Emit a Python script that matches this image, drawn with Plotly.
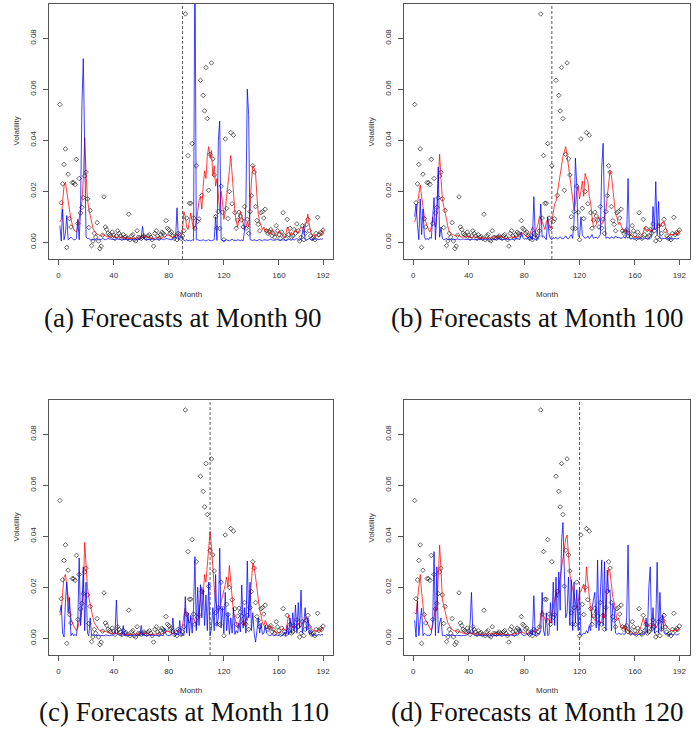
import plotly.graph_objects as go

W, H = 697, 752

months = list(range(1, 193))

obs = [0.054, 0.0155, 0.0229, 0.0305, 0.0366, -0.002, 0.0267, 0.0093, 0.006, 0.0234,
       0.0234, 0.0227, 0.0325, 0.0074, 0.025, 0.0115, 0.0137, 0.0175, 0.026, 0.0275,
       0.017, 0.0058, 0.0125, -0.0013, 0.0005, 0.0035, 0.002, 0.0077, 0.0005, -0.0025,
       -0.0015, 0.0028, 0.0178, 0.006, 0.005, 0.0035, 0.003, 0.0025, 0.004, 0.0028,
       0.0015, 0.0025, 0.0045, 0.0035, 0.0025, 0.0015, 0.003, 0.002, 0.0022, 0.0015,
       0.011, 0.001, 0.0025, 0.003, 0.001, 0.0005, 0.0045, 0.002, 0.0018, 0.0015,
       0.002, 0.0025, 0.002, 0.0015, 0.0025, 0.003, 0.002, 0.001, -0.0015, 0.0035,
       0.0045, 0.0025, 0.0015, 0.003, 0.004, 0.0035, 0.0028, 0.0085, 0.0055, 0.005,
       0.0035, 0.004, 0.0025, 0.0015, 0.0025, 0.001, 0.0035, 0.003, 0.0015, 0.0025,
       0.0045, 0.0895, 0.0095, 0.034, 0.0153, 0.0153, 0.0387, 0.0095, 0.0055, 0.030,
       0.0082, 0.0092, 0.0635, 0.0184, 0.0576, 0.0515, 0.0685, 0.0485, 0.0204, 0.0345,
       0.0703, 0.0327, 0.0264, 0.010, 0.0055, 0.012, 0.0054, 0.022, 0.0118, 0.001,
       0.0405, 0.0133, 0.0093, 0.0199, 0.043, 0.0151, 0.042, 0.0116, 0.0055, 0.0087,
       0.0118, 0.0103, 0.0087, 0.006, 0.014, 0.0055, 0.009, 0.0035, 0.012, 0.0183,
       0.030, 0.0275, 0.014, 0.0085, 0.007, 0.0045, 0.0116, 0.012, 0.0095, 0.013,
       0.0045, 0.0035, 0.0042, 0.005, 0.0025, 0.0035, 0.002, 0.0065, 0.0045, 0.003,
       0.0015, 0.004, 0.0116, 0.0025, 0.0015, 0.009, 0.003, 0.0055, 0.002, 0.0025,
       0.005, 0.0035, 0.0072, 0.0045, 0.0005, 0.002, 0.0065, 0.001, 0.0035, 0.007,
       0.009, 0.0045, 0.0025, 0.0015, 0.002, 0.001, 0.0035, 0.0098, 0.003, 0.0038,
       0.0035, 0.0048]

red_a = [0.008, 0.009, 0.016, 0.022, 0.0235, 0.020, 0.015, 0.012, 0.009, 0.007,
         0.005, 0.0045, 0.004, 0.006, 0.009, 0.012, 0.016, 0.025, 0.041, 0.027,
         0.017, 0.013, 0.010, 0.008, 0.0055, 0.0045, 0.0035, 0.003, 0.003, 0.0025,
         0.0025, 0.003, 0.0028, 0.0025, 0.0022, 0.002, 0.002, 0.0022, 0.0025, 0.0022,
         0.002, 0.0018, 0.002, 0.0022, 0.002, 0.0018, 0.0015, 0.0018, 0.0016, 0.0015,
         0.0015, 0.0016, 0.0014, 0.0015, 0.0016, 0.0015, 0.0017, 0.0018, 0.0016, 0.0015,
         0.002, 0.0022, 0.0025, 0.0022, 0.002, 0.0018, 0.0016, 0.0015, 0.0014, 0.0016,
         0.002, 0.0018, 0.0016, 0.0015, 0.0018, 0.0022, 0.002, 0.0025, 0.003, 0.0028,
         0.0025, 0.002, 0.0018, 0.0022, 0.0028, 0.003, 0.0025, 0.003, 0.0035, 0.005,
         0.012, 0.010, 0.006, 0.005, 0.009, 0.0115, 0.008, 0.005, 0.006, 0.008,
         0.012, 0.0165, 0.018, 0.013, 0.022, 0.028, 0.025, 0.034, 0.0375, 0.033,
         0.036, 0.026, 0.030, 0.022, 0.025, 0.017, 0.012, 0.020, 0.016, 0.009,
         0.012, 0.018, 0.022, 0.028, 0.034, 0.026, 0.018, 0.012, 0.008, 0.006,
         0.009, 0.012, 0.010, 0.007, 0.005, 0.006, 0.008, 0.006, 0.013, 0.024,
         0.030, 0.029, 0.027, 0.018, 0.011, 0.008, 0.006, 0.005, 0.006, 0.004,
         0.005, 0.004, 0.003, 0.0035, 0.005, 0.004, 0.003, 0.0025, 0.003, 0.0045,
         0.004, 0.003, 0.0025, 0.002, 0.003, 0.006, 0.005, 0.003, 0.004, 0.003,
         0.004, 0.005, 0.004, 0.0035, 0.005, 0.006, 0.005, 0.004, 0.006, 0.009,
         0.011, 0.007, 0.004, 0.003, 0.003, 0.002, 0.003, 0.0025, 0.002, 0.003,
         0.003, 0.005]

blue_a = [0.0065, 0.0005, 0.013, 0.001, 0.0035, 0.0105, 0.001, 0.0015, 0.002, 0.0015,
          0.001, 0.001, 0.0015, 0.009, 0.001, 0.013, 0.054, 0.072, 0.025, 0.002,
          0.0015, 0.0015, 0.001, 0.001, 0.0012, 0.0012, 0.001, 0.0015, 0.001, 0.0012,
          0.001, 0.0015, 0.0012, 0.001, 0.0012, 0.0015, 0.0013, 0.0012, 0.001, 0.0011,
          0.0012, 0.0014, 0.0012, 0.001, 0.0011, 0.0013, 0.0012, 0.001, 0.0012, 0.0011,
          0.0012, 0.0011, 0.001, 0.0012, 0.0013, 0.0012, 0.0011, 0.001, 0.0012, 0.002,
          0.0062, 0.0015, 0.001, 0.0012, 0.0011, 0.001, 0.0012, 0.0013, 0.0011, 0.001,
          0.0012, 0.0011, 0.001, 0.0012, 0.0014, 0.0012, 0.001, 0.0015, 0.0013, 0.0011,
          0.0012, 0.001, 0.0013, 0.0015, 0.002, 0.0135, 0.001, 0.0015, 0.002, 0.0012,
          0.0008, 0.0005, 0.001, 0.0006, 0.0008, 0.0005, 0.001, 0.0007, 0.120, 0.001,
          0.001, 0.0008, 0.0006, 0.0008, 0.001, 0.0007, 0.0005, 0.0008, 0.001, 0.0007,
          0.0006, 0.0008, 0.001, 0.010, 0.0007, 0.040, 0.0475, 0.001, 0.0008, 0.0006,
          0.0008, 0.001, 0.0007, 0.0006, 0.0009, 0.0012, 0.0008, 0.0006, 0.0007, 0.001,
          0.0008, 0.0007, 0.0009, 0.0006, 0.0045, 0.015, 0.060, 0.050, 0.001, 0.0008,
          0.0007, 0.001, 0.0008, 0.0006, 0.0009, 0.0011, 0.0008, 0.0006, 0.001, 0.0009,
          0.0007, 0.0008, 0.001, 0.0012, 0.0009, 0.0007, 0.0008, 0.001, 0.0011, 0.0008,
          0.0007, 0.0009, 0.001, 0.0008, 0.0007, 0.0009, 0.0012, 0.001, 0.0008, 0.0011,
          0.0009, 0.0012, 0.0015, 0.001, 0.0008, 0.0012, 0.0035, 0.0065, 0.001, 0.0008,
          0.0012, 0.0015, 0.0011, 0.0009, 0.0012, 0.001, 0.0014, 0.0012, 0.001, 0.0013,
          0.0012, 0.0014]

red_b = [0.008, 0.010, 0.015, 0.019, 0.0225, 0.018, 0.013, 0.010, 0.008, 0.006,
         0.005, 0.004, 0.006, 0.010, 0.008, 0.006, 0.012, 0.025, 0.0345, 0.025,
         0.017, 0.014, 0.012, 0.009, 0.006, 0.004, 0.0035, 0.003, 0.003, 0.0025,
         0.0025, 0.0028, 0.0025, 0.0022, 0.002, 0.002, 0.002, 0.0022, 0.0025, 0.0022,
         0.002, 0.0018, 0.002, 0.0024, 0.002, 0.0018, 0.0016, 0.0018, 0.0016, 0.0015,
         0.0015, 0.0018, 0.0015, 0.0017, 0.0016, 0.0017, 0.002, 0.0022, 0.002, 0.0018,
         0.002, 0.0025, 0.0022, 0.002, 0.0018, 0.0016, 0.0015, 0.0016, 0.0018, 0.002,
         0.0022, 0.002, 0.0018, 0.0017, 0.0022, 0.0025, 0.0028, 0.004, 0.0035, 0.003,
         0.0025, 0.0022, 0.0025, 0.003, 0.0045, 0.006, 0.005, 0.004, 0.0055, 0.007,
         0.010, 0.0095, 0.008, 0.006, 0.005, 0.008, 0.009, 0.007, 0.0055, 0.008,
         0.0114, 0.015, 0.016, 0.020, 0.023, 0.026, 0.030, 0.0336, 0.036, 0.0375,
         0.034, 0.030, 0.024, 0.020, 0.018, 0.013, 0.015, 0.020, 0.022, 0.017,
         0.020, 0.024, 0.018, 0.027, 0.025, 0.024, 0.018, 0.0155, 0.010, 0.006,
         0.006, 0.007, 0.009, 0.010, 0.008, 0.007, 0.008, 0.010, 0.012, 0.018,
         0.022, 0.028, 0.026, 0.020, 0.017, 0.011, 0.0098, 0.007, 0.008, 0.006,
         0.005, 0.0045, 0.004, 0.005, 0.004, 0.0036, 0.003, 0.0025, 0.002, 0.002,
         0.002, 0.0018, 0.002, 0.0025, 0.003, 0.004, 0.006, 0.0048, 0.004, 0.005,
         0.005, 0.004, 0.005, 0.006, 0.005, 0.006, 0.007, 0.006, 0.007, 0.008,
         0.0081, 0.006, 0.004, 0.0035, 0.003, 0.003, 0.003, 0.0028, 0.003, 0.0035,
         0.003, 0.0048]

blue_b = [0.010, 0.015, 0.007, 0.001, 0.017, 0.003, 0.013, 0.002, 0.001, 0.0015,
          0.001, 0.002, 0.0015, 0.008, 0.0175, 0.001, 0.011, 0.0295, 0.002, 0.006,
          0.0015, 0.001, 0.0012, 0.0015, 0.001, 0.0012, 0.0011, 0.0013, 0.001, 0.0012,
          0.0011, 0.0013, 0.0012, 0.001, 0.0012, 0.0013, 0.0011, 0.0012, 0.001, 0.0012,
          0.0011, 0.0013, 0.0012, 0.001, 0.0012, 0.0011, 0.0012, 0.001, 0.0011, 0.0012,
          0.0012, 0.0011, 0.001, 0.0012, 0.0011, 0.0012, 0.0013, 0.0011, 0.001, 0.0012,
          0.0015, 0.0012, 0.0011, 0.001, 0.0012, 0.0011, 0.0013, 0.0012, 0.0011, 0.001,
          0.0012, 0.0011, 0.0012, 0.0015, 0.0013, 0.0012, 0.0011, 0.004, 0.002, 0.0012,
          0.0015, 0.0012, 0.002, 0.001, 0.0025, 0.001, 0.0179, 0.003, 0.001, 0.002,
          0.003, 0.015, 0.002, 0.0025, 0.0015, 0.001, 0.010, 0.003, 0.0015, 0.001,
          0.0018, 0.0015, 0.002, 0.0013, 0.0016, 0.0022, 0.0015, 0.0013, 0.0018, 0.0025,
          0.0016, 0.0014, 0.0022, 0.003, 0.0015, 0.008, 0.033, 0.022, 0.0025, 0.002,
          0.010, 0.0028, 0.002, 0.0016, 0.0018, 0.0025, 0.0015, 0.002, 0.003, 0.0016,
          0.0018, 0.002, 0.0015, 0.0022, 0.003, 0.029, 0.0388, 0.012, 0.0015, 0.002,
          0.0018, 0.0015, 0.0022, 0.0018, 0.0015, 0.0025, 0.0018, 0.002, 0.0016, 0.0015,
          0.0018, 0.0022, 0.0015, 0.003, 0.025, 0.0018, 0.0015, 0.0016, 0.0013, 0.0012,
          0.0015, 0.0013, 0.0012, 0.0016, 0.0014, 0.0012, 0.0018, 0.0013, 0.0016, 0.0012,
          0.0015, 0.002, 0.014, 0.005, 0.0238, 0.003, 0.016, 0.0018, 0.0013, 0.0016,
          0.0014, 0.0016, 0.0012, 0.0013, 0.0016, 0.0012, 0.0013, 0.0014, 0.0015, 0.0013,
          0.0015, 0.0016]

red_c = [0.009, 0.010, 0.018, 0.024, 0.025, 0.021, 0.017, 0.011, 0.008, 0.006,
         0.005, 0.004, 0.003, 0.004, 0.006, 0.009, 0.013, 0.018, 0.0376, 0.027,
         0.020, 0.016, 0.013, 0.010, 0.008, 0.006, 0.005, 0.004, 0.0035, 0.003,
         0.003, 0.0028, 0.0025, 0.0028, 0.0025, 0.0022, 0.002, 0.002, 0.0018, 0.002,
         0.0022, 0.002, 0.0018, 0.0016, 0.0015, 0.0016, 0.0014, 0.0015, 0.0016, 0.0014,
         0.0015, 0.0016, 0.0014, 0.0015, 0.0017, 0.0015, 0.0016, 0.0018, 0.002, 0.0018,
         0.0016, 0.0018, 0.002, 0.0018, 0.0016, 0.0015, 0.0014, 0.0015, 0.0016, 0.0015,
         0.0016, 0.0018, 0.0016, 0.0015, 0.0018, 0.002, 0.0022, 0.0025, 0.003, 0.0025,
         0.0022, 0.002, 0.0018, 0.002, 0.0025, 0.003, 0.0028, 0.0025, 0.003, 0.005,
         0.009, 0.0118, 0.009, 0.007, 0.006, 0.008, 0.0075, 0.008, 0.006, 0.005,
         0.007, 0.010, 0.015, 0.020, 0.017, 0.025, 0.022, 0.030, 0.035, 0.042,
         0.036, 0.027, 0.020, 0.0145, 0.012, 0.010, 0.012, 0.014, 0.016, 0.019,
         0.021, 0.024, 0.020, 0.0286, 0.022, 0.0146, 0.010, 0.008, 0.006, 0.004,
         0.006, 0.008, 0.007, 0.006, 0.005, 0.008, 0.007, 0.010, 0.015, 0.022,
         0.0296, 0.028, 0.024, 0.019, 0.015, 0.011, 0.009, 0.006, 0.005, 0.007,
         0.006, 0.004, 0.0035, 0.005, 0.004, 0.003, 0.0025, 0.002, 0.002, 0.0022,
         0.0025, 0.003, 0.004, 0.0035, 0.003, 0.006, 0.009, 0.007, 0.005, 0.004,
         0.005, 0.0045, 0.005, 0.006, 0.005, 0.0045, 0.006, 0.007, 0.008, 0.0084,
         0.007, 0.005, 0.004, 0.0035, 0.003, 0.003, 0.0028, 0.003, 0.003, 0.0028,
         0.0039, 0.004]

blue_c = [0.010, 0.013, 0.002, 0.0005, 0.014, 0.022, 0.010, 0.016, 0.001, 0.002,
          0.001, 0.0015, 0.001, 0.006, 0.0315, 0.005, 0.012, 0.028, 0.003, 0.022,
          0.002, 0.001, 0.008, 0.001, 0.0015, 0.001, 0.0012, 0.001, 0.0011, 0.0012,
          0.0011, 0.0012, 0.001, 0.0013, 0.0012, 0.0011, 0.001, 0.0012, 0.0011, 0.0013,
          0.002, 0.015, 0.0015, 0.0012, 0.001, 0.0012, 0.005, 0.0011, 0.001, 0.0012,
          0.0011, 0.0012, 0.001, 0.0011, 0.0013, 0.0012, 0.001, 0.0011, 0.0012, 0.005,
          0.0012, 0.0011, 0.001, 0.0012, 0.0011, 0.0013, 0.0012, 0.001, 0.0011, 0.0012,
          0.0011, 0.0012, 0.001, 0.0013, 0.0012, 0.001, 0.004, 0.0015, 0.0011, 0.0012,
          0.001, 0.002, 0.008, 0.0015, 0.001, 0.002, 0.0012, 0.007, 0.001, 0.0015,
          0.001, 0.0163, 0.002, 0.010, 0.001, 0.009, 0.002, 0.012, 0.032, 0.003,
          0.020, 0.005, 0.021, 0.008, 0.019, 0.005, 0.017, 0.003, 0.022, 0.001,
          0.004, 0.012, 0.003, 0.025, 0.005, 0.008, 0.0353, 0.004, 0.012, 0.002,
          0.018, 0.003, 0.010, 0.0015, 0.008, 0.002, 0.012, 0.0015, 0.003, 0.002,
          0.006, 0.0025, 0.0209, 0.004, 0.012, 0.002, 0.0303, 0.008, 0.022, 0.003,
          0.010, 0.002, -0.0015, 0.003, 0.008, 0.002, 0.006, 0.0015, 0.002, 0.005,
          0.002, 0.0015, 0.001, 0.0012, 0.0015, 0.001, 0.0012, 0.0013, 0.001, 0.0012,
          0.0015, 0.001, 0.0012, 0.0025, 0.001, 0.005, 0.0015, 0.008, 0.002, 0.010,
          0.003, 0.013, 0.002, 0.014, 0.004, 0.0189, 0.002, 0.006, 0.012, 0.003,
          0.008, 0.0015, 0.003, 0.001, 0.0015, 0.0012, 0.001, 0.0013, 0.0015, 0.0012,
          0.0015, 0.0013]

red_d = [0.010, 0.0095, 0.015, 0.020, 0.025, 0.018, 0.012, 0.008, 0.007, 0.006,
         0.005, 0.004, 0.003, 0.005, 0.008, 0.012, 0.011, 0.025, 0.0366, 0.027,
         0.015, 0.013, 0.010, 0.008, 0.006, 0.005, 0.004, 0.0035, 0.003, 0.003,
         0.003, 0.0028, 0.0025, 0.0025, 0.0023, 0.002, 0.002, 0.0022, 0.002, 0.0018,
         0.002, 0.0022, 0.002, 0.0018, 0.0016, 0.0015, 0.0016, 0.0015, 0.0014, 0.0015,
         0.0016, 0.0015, 0.0014, 0.0016, 0.0018, 0.0017, 0.0016, 0.0018, 0.002, 0.0018,
         0.0016, 0.0015, 0.0016, 0.0018, 0.0017, 0.0015, 0.0014, 0.0015, 0.0013, 0.0014,
         0.0015, 0.0016, 0.0015, 0.0016, 0.0018, 0.002, 0.0022, 0.0025, 0.0022, 0.002,
         0.002, 0.0018, 0.002, 0.0022, 0.0025, 0.003, 0.0028, 0.0025, 0.003, 0.0035,
         0.004, 0.009, 0.011, 0.009, 0.007, 0.006, 0.008, 0.007, 0.006, 0.009,
         0.012, 0.015, 0.018, 0.016, 0.020, 0.022, 0.028, 0.030, 0.035, 0.039,
         0.0405, 0.033, 0.025, 0.022, 0.019, 0.017, 0.014, 0.012, 0.014, 0.018,
         0.0183, 0.020, 0.0212, 0.018, 0.028, 0.022, 0.015, 0.011, 0.009, 0.008,
         0.007, 0.0075, 0.0065, 0.007, 0.006, 0.007, 0.010, 0.008, 0.012, 0.022,
         0.0273, 0.026, 0.020, 0.016, 0.014, 0.010, 0.007, 0.008, 0.006, 0.004,
         0.004, 0.005, 0.003, 0.0035, 0.003, 0.0025, 0.002, 0.002, 0.0018, 0.0015,
         0.0016, 0.002, 0.003, 0.004, 0.006, 0.008, 0.006, 0.005, 0.0045, 0.005,
         0.005, 0.0045, 0.006, 0.005, 0.004, 0.005, 0.006, 0.008, 0.0083, 0.009,
         0.007, 0.005, 0.0045, 0.004, 0.0035, 0.003, 0.003, 0.003, 0.0028, 0.003,
         0.003, 0.004]

blue_d = [0.007, 0.0005, 0.0146, 0.001, 0.007, 0.0118, 0.001, 0.002, 0.0015, 0.001,
          0.0012, 0.001, 0.002, 0.006, 0.034, 0.001, 0.028, 0.002, 0.006, 0.008,
          0.001, 0.0012, 0.001, 0.0015, 0.0012, 0.001, 0.0011, 0.0013, 0.0012, 0.001,
          0.0012, 0.0011, 0.0013, 0.0012, 0.001, 0.0011, 0.0012, 0.001, 0.0013, 0.002,
          0.006, 0.018, 0.002, 0.0012, 0.001, 0.0011, 0.0013, 0.0012, 0.001, 0.0012,
          0.0011, 0.0013, 0.0012, 0.001, 0.0011, 0.0012, 0.0013, 0.001, 0.0011, 0.0012,
          0.0011, 0.0012, 0.001, 0.0013, 0.0012, 0.0011, 0.001, 0.0012, 0.0011, 0.0013,
          0.0012, 0.001, 0.0011, 0.0013, 0.0012, 0.0015, 0.004, 0.002, 0.0012, 0.0011,
          0.0012, 0.002, 0.0011, 0.0015, 0.003, 0.0012, 0.0167, 0.001, 0.0012, 0.002,
          0.0015, 0.003, 0.018, 0.003, 0.001, 0.010, 0.001, 0.0015, 0.014, 0.006,
          0.022, 0.005, 0.024, 0.003, 0.026, 0.011, 0.0376, 0.0454, 0.020, 0.008,
          0.010, 0.024, 0.005, 0.023, 0.003, 0.022, 0.006, 0.019, 0.003, 0.020,
          0.001, 0.0015, 0.002, 0.0018, 0.003, 0.002, 0.005, 0.003, 0.012, 0.015,
          0.018, 0.004, 0.0307, 0.003, 0.020, 0.0307, 0.005, 0.030, 0.003, 0.0268,
          0.018, 0.019, 0.003, 0.0137, 0.011, 0.002, 0.0015, 0.002, 0.0018, 0.0015,
          0.002, 0.0015, 0.0018, 0.008, 0.0366, 0.002, 0.0015, 0.0018, 0.0015, 0.0012,
          0.0015, 0.0012, 0.0018, 0.0015, 0.0012, 0.002, 0.0015, 0.008, 0.002, 0.020,
          0.028, 0.003, 0.012, 0.002, 0.006, 0.0298, 0.002, 0.018, 0.003, 0.009,
          0.002, 0.0015, 0.002, 0.0012, 0.0015, 0.0018, 0.0012, 0.0015, 0.0018, 0.0012,
          0.0015, 0.0018]

forecast_months = [90, 100, 110, 120]
reds = [red_a, red_b, red_c, red_d]
blues = [blue_a, blue_b, blue_c, blue_d]
captions = ["(a) Forecasts at Month 90", "(b) Forecasts at Month 100",
            "(c) Forecasts at Month 110", "(d) Forecasts at Month 120"]
x_ticks = [0, 40, 80, 120, 160, 192]
y_ticks = [0.00, 0.02, 0.04, 0.06, 0.08]
y_tick_text = ["0.00", "0.02", "0.04", "0.06", "0.08"]

# plot boxes in pixels: left, top, right, bottom
boxes = [(49, 4, 333, 259), (404, 4, 690, 259), (49, 400, 333, 655), (404, 400, 690, 655)]
x_ranges = [(-6.9, 199.2), (-6.7, 199.7), (-6.9, 199.2), (-6.7, 199.7)]
y_range = (-0.00655, 0.0934)
caption_centers = [(182, 318), (537, 318), (184, 712), (537, 712)]

def px(x):
    return x / W

def py(y):
    return 1 - y / H

sans = "Liberation Sans Narrow, Arial Narrow, Liberation Sans, Arial, sans-serif"
tick_font = dict(family=sans, size=8, color="#333333")

fig = go.Figure()
layout = dict(width=W, height=H, margin=dict(l=0, r=0, t=0, b=0),
              paper_bgcolor="white", plot_bgcolor="white", showlegend=False)
shapes = []
annotations = []

for i in range(4):
    k = "" if i == 0 else str(i + 1)
    xa, ya = "x" + k, "y" + k
    l, t, r, b = boxes[i]
    fig.add_trace(go.Scatter(x=months, y=obs, mode="markers", xaxis=xa, yaxis=ya,
                             marker=dict(symbol="diamond-open", size=3.5, color="#222222",
                                         line=dict(width=0.7, color="#222222"))))
    fig.add_trace(go.Scatter(x=months, y=reds[i], mode="lines", xaxis=xa, yaxis=ya,
                             line=dict(color="rgba(255,0,0,0.75)", width=1)))
    fig.add_trace(go.Scatter(x=months, y=blues[i], mode="lines", xaxis=xa, yaxis=ya,
                             line=dict(color="rgba(0,0,255,0.75)", width=1)))
    layout["xaxis" + k] = dict(domain=[px(l), px(r)], range=list(x_ranges[i]), anchor=ya,
                               tickvals=x_ticks, ticks="outside", ticklen=5, tickcolor="#555555",
                               showline=True, mirror=True, linecolor="#555555", linewidth=1,
                               showgrid=False, zeroline=False, tickfont=tick_font,
                               ticklabelstandoff=3)
    layout["yaxis" + k] = dict(domain=[py(b), py(t)], range=list(y_range), anchor=xa,
                               tickvals=y_ticks, ticktext=y_tick_text, tickangle=-90,
                               ticks="outside", ticklen=5, tickcolor="#555555",
                               showline=True, mirror=True, linecolor="#555555", linewidth=1,
                               showgrid=False, zeroline=False, tickfont=tick_font,
                               ticklabelstandoff=4)
    shapes.append(dict(type="line", xref=xa, yref=ya + " domain", x0=forecast_months[i],
                       x1=forecast_months[i], y0=0, y1=1,
                       line=dict(color="#333333", width=0.8, dash="3px,2px")))
    annotations.append(dict(text="Month", xref="paper", yref="paper", x=px((l + r) / 2),
                            y=py(b + 35), showarrow=False, xanchor="center", yanchor="middle",
                            font=dict(family=sans, size=8, color="#333333")))
    annotations.append(dict(text="Volatility", xref="paper", yref="paper", x=px(l - 33),
                            y=py((t + b) / 2), showarrow=False, textangle=-90,
                            xanchor="center", yanchor="middle",
                            font=dict(family=sans, size=8, color="#333333")))
    cx, cy = caption_centers[i]
    annotations.append(dict(text=captions[i], xref="paper", yref="paper", x=px(cx), y=py(cy),
                            showarrow=False, xanchor="center", yanchor="middle",
                            font=dict(family="Liberation Serif, serif", size=27, color="#111111")))

layout["shapes"] = shapes
layout["annotations"] = annotations
fig.update_layout(**layout)
fig.write_html("out.html", config={"displayModeBar": False},
               post_script="document.body.style.margin='0';document.body.style.overflow='hidden';")
